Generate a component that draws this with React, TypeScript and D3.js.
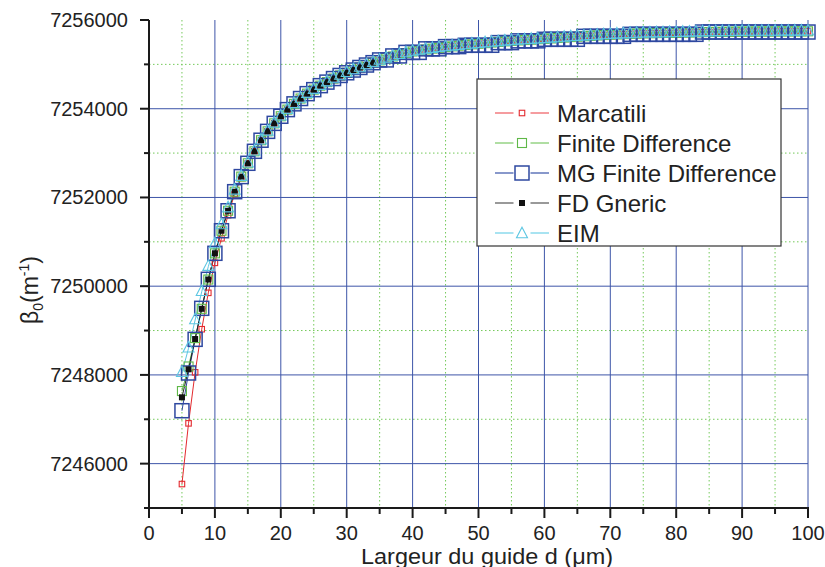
import React from "react";
import * as d3 from "d3";

const widths: number[] = d3.range(5, 101);

const marcatili: number[] = [
  7245540, 7246908, 7248058, 7249030, 7249850, 7250526, 7251080, 7251600, 7252080, 7252440,
  7252770, 7253040, 7253290, 7253490, 7253670, 7253830, 7253980, 7254110, 7254230, 7254340,
  7254430, 7254520, 7254600, 7254680, 7254750, 7254810, 7254872, 7254930, 7254985, 7255038,
  7255090, 7255135, 7255178, 7255218, 7255255, 7255290, 7255313, 7255335, 7255355, 7255373,
  7255390, 7255406, 7255421, 7255436, 7255451, 7255465, 7255479, 7255492, 7255505, 7255518,
  7255530, 7255540, 7255549, 7255558, 7255567, 7255575, 7255585, 7255595, 7255605, 7255615,
  7255625, 7255634, 7255643, 7255652, 7255661, 7255670, 7255676, 7255682, 7255688, 7255694,
  7255700, 7255703, 7255705, 7255708, 7255710, 7255712, 7255716, 7255720, 7255723, 7255727,
  7255730, 7255732, 7255733, 7255735, 7255737, 7255738, 7255739, 7255740, 7255741, 7255741,
  7255742, 7255743, 7255743, 7255744, 7255744, 7255745,
];

const finiteDiff: number[] = [
  7247636, 7248190, 7248830, 7249490, 7250150, 7250740, 7251250, 7251700, 7252130, 7252470,
  7252770, 7253040, 7253290, 7253490, 7253670, 7253830, 7253980, 7254110, 7254230, 7254340,
  7254430, 7254520, 7254600, 7254680, 7254750, 7254810, 7254872, 7254930, 7254985, 7255038,
  7255090, 7255135, 7255178, 7255218, 7255255, 7255290, 7255313, 7255335, 7255355, 7255373,
  7255390, 7255406, 7255421, 7255436, 7255451, 7255465, 7255479, 7255492, 7255505, 7255518,
  7255530, 7255540, 7255549, 7255558, 7255567, 7255575, 7255585, 7255595, 7255605, 7255615,
  7255625, 7255634, 7255643, 7255652, 7255661, 7255670, 7255676, 7255682, 7255688, 7255694,
  7255700, 7255703, 7255705, 7255708, 7255710, 7255712, 7255716, 7255720, 7255723, 7255727,
  7255730, 7255732, 7255733, 7255735, 7255737, 7255738, 7255739, 7255740, 7255741, 7255741,
  7255742, 7255743, 7255743, 7255744, 7255744, 7255745,
];

const mgFiniteDiff: number[] = [
  7247193, 7248043, 7248802, 7249501, 7250155, 7250741, 7251250, 7251700, 7252130, 7252470,
  7252770, 7253040, 7253290, 7253490, 7253670, 7253830, 7253980, 7254110, 7254230, 7254340,
  7254430, 7254520, 7254600, 7254680, 7254750, 7254810, 7254872, 7254930, 7254985, 7255038,
  7255100, 7255100, 7255190, 7255190, 7255270, 7255270, 7255270, 7255350, 7255350, 7255350,
  7255400, 7255400, 7255400, 7255430, 7255430, 7255430, 7255430, 7255430, 7255490, 7255490,
  7255490, 7255530, 7255530, 7255530, 7255530, 7255565, 7255565, 7255565, 7255565, 7255565,
  7255565, 7255632, 7255632, 7255632, 7255632, 7255632, 7255632, 7255632, 7255677, 7255677,
  7255677, 7255677, 7255677, 7255677, 7255677, 7255677, 7255677, 7255677, 7255677, 7255729,
  7255729, 7255729, 7255729, 7255729, 7255729, 7255729, 7255729, 7255729, 7255729, 7255729,
  7255729, 7255729, 7255729, 7255729, 7255729, 7255729,
];

const fdGnericWidths: number[] = d3.range(5, 35);
const fdGneric: number[] = [
  7247495, 7248126, 7248809, 7249490, 7250150, 7250741, 7251250, 7251700, 7252130, 7252470,
  7252770, 7253040, 7253290, 7253490, 7253670, 7253830, 7253980, 7254110, 7254230, 7254340,
  7254430, 7254520, 7254600, 7254680, 7254750, 7254810, 7254872, 7254930, 7254985, 7255038,
];

const eim: number[] = [
  7248049, 7248600, 7249237, 7249875, 7250440, 7250950, 7251380, 7251760, 7252160, 7252470,
  7252770, 7253040, 7253290, 7253490, 7253670, 7253830, 7253980, 7254110, 7254230, 7254340,
  7254430, 7254520, 7254600, 7254680, 7254750, 7254810, 7254872, 7254930, 7254985, 7255038,
  7255090, 7255135, 7255178, 7255218, 7255255, 7255290, 7255313, 7255335, 7255355, 7255373,
  7255390, 7255406, 7255421, 7255436, 7255451, 7255465, 7255479, 7255492, 7255505, 7255518,
  7255530, 7255540, 7255549, 7255558, 7255567, 7255575, 7255585, 7255595, 7255605, 7255615,
  7255625, 7255634, 7255643, 7255652, 7255661, 7255670, 7255676, 7255682, 7255688, 7255694,
  7255700, 7255703, 7255705, 7255708, 7255710, 7255712, 7255716, 7255720, 7255723, 7255727,
  7255730, 7255732, 7255733, 7255735, 7255737, 7255738, 7255739, 7255740, 7255741, 7255741,
  7255742, 7255743, 7255743, 7255744, 7255744, 7255745,
];

const xTickLabels: number[] = [0, 10, 20, 30, 40, 50, 60, 70, 80, 90, 100];
const xMinorTicks: number[] = [5, 15, 25, 35, 45, 55, 65, 75, 85, 95];
const yTickLabels: number[] = [7246000, 7248000, 7250000, 7252000, 7254000, 7256000];
const yMinorTicks: number[] = [7245000, 7247000, 7249000, 7251000, 7253000, 7255000];

type Shape = "square" | "filled" | "triangle";
interface Series {
  name: string;
  xs: number[];
  ys: number[];
  color: string;
  lineColor: string;
  legendLine: string;
  shape: Shape;
  size: number;
}

const seriesList: Series[] = [
  { name: "Marcatili", xs: widths, ys: marcatili, color: "#e32a2e", lineColor: "#e32a2e", legendLine: "#ef5a5e", shape: "square", size: 5.5 },
  { name: "Finite Difference", xs: widths, ys: finiteDiff, color: "#5fb848", lineColor: "#5fb848", legendLine: "#7cc866", shape: "square", size: 9 },
  { name: "MG Finite Difference", xs: widths, ys: mgFiniteDiff, color: "#2e48a0", lineColor: "#2e48a0", legendLine: "#3a54a8", shape: "square", size: 14 },
  { name: "FD Gneric", xs: fdGnericWidths, ys: fdGneric, color: "#111111", lineColor: "#222222", legendLine: "#555555", shape: "filled", size: 6 },
  { name: "EIM", xs: widths, ys: eim, color: "#5cc6e2", lineColor: "#5cc6e2", legendLine: "#6fd0e8", shape: "triangle", size: 11 },
];

const FONT = "'Liberation Sans', Arial, Helvetica, sans-serif";

function Marker({ x, y, s }: { x: number; y: number; s: Series }) {
  const h = s.size / 2;
  if (s.shape === "triangle") {
    const pts = [
      [x, y - s.size * 0.62],
      [x + h, y + s.size * 0.34],
      [x - h, y + s.size * 0.34],
    ]
      .map((p) => p.join(","))
      .join(" ");
    return <polygon points={pts} fill="none" stroke={s.color} strokeWidth={1.1} />;
  }
  if (s.shape === "filled") {
    return <rect x={x - h} y={y - h} width={s.size} height={s.size} fill={s.color} stroke="none" />;
  }
  return (
    <rect x={x - h} y={y - h} width={s.size} height={s.size} fill="none" stroke={s.color} strokeWidth={s.size > 12 ? 1.5 : 1.1} />
  );
}

export default function App() {
  const W = 825;
  const H = 567;
  const x = d3.scaleLinear().domain([0, 100]).range([149, 808]);
  const y = d3.scaleLinear().domain([7245000, 7256000]).range([508, 20]);

  const line = d3
    .line<[number, number]>()
    .x((d) => x(d[0]))
    .y((d) => y(d[1]));

  const left = x(0);
  const right = x(100);
  const bottom = y(7245000);
  const top = y(7256000);

  const legendX = 477;
  const legendY = 79;
  const legendW = 304;
  const legendH = 167;
  const rowY0 = 113;
  const rowStep = 30;

  return (
    <svg
      width={W}
      height={H}
      style={{ position: "absolute", left: 0, top: 0, background: "#fff" }}
      fontFamily={FONT}
    >
      <rect x={0} y={0} width={W} height={H} fill="#fff" />
      {/* minor grid */}
      {xMinorTicks.map((t) => (
        <line key={"gx" + t} x1={x(t)} x2={x(t)} y1={top} y2={bottom} stroke="#74c95a" strokeWidth={1} strokeDasharray="1.5,2.5" />
      ))}
      {yMinorTicks.filter((t) => t !== 7245000).map((t) => (
        <line key={"gy" + t} x1={left} x2={right} y1={y(t)} y2={y(t)} stroke="#74c95a" strokeWidth={1} strokeDasharray="1.5,2.5" />
      ))}
      {/* major grid */}
      {xTickLabels.filter((t) => t !== 0).map((t) => (
        <line key={"GX" + t} x1={x(t)} x2={x(t)} y1={top} y2={bottom} stroke="#3d55a8" strokeWidth={1} />
      ))}
      {yTickLabels.filter((t) => t !== 7256000).map((t) => (
        <line key={"GY" + t} x1={left} x2={right} y1={y(t)} y2={y(t)} stroke="#3d55a8" strokeWidth={1} />
      ))}

      {/* series lines */}
      {seriesList.map((s) => (
        <path
          key={"l" + s.name}
          d={line(s.xs.map((v, i) => [v, s.ys[i]] as [number, number])) || ""}
          fill="none"
          stroke={s.lineColor}
          strokeWidth={1}
        />
      ))}
      {/* markers */}
      {seriesList.map((s) => (
        <g key={"m" + s.name}>
          {s.xs.map((v, i) => (
            <Marker key={i} x={x(v)} y={y(s.ys[i])} s={s} />
          ))}
        </g>
      ))}

      {/* axes */}
      <line x1={left} x2={left} y1={top} y2={bottom + 1} stroke="#1a1a1a" strokeWidth={2} />
      <line x1={left - 1} x2={right + 1} y1={bottom} y2={bottom} stroke="#1a1a1a" strokeWidth={2} />
      {xTickLabels.map((t) => (
        <g key={"xt" + t}>
          <line x1={x(t)} x2={x(t)} y1={bottom} y2={bottom + 10} stroke="#1a1a1a" strokeWidth={2} />
          <text x={x(t)} y={539.5} textAnchor="middle" fontSize={20} fill="#222">
            {t}
          </text>
        </g>
      ))}
      {xMinorTicks.map((t) => (
        <line key={"xm" + t} x1={x(t)} x2={x(t)} y1={bottom} y2={bottom + 6} stroke="#1a1a1a" strokeWidth={2} />
      ))}
      {yTickLabels.map((t) => (
        <g key={"yt" + t}>
          <line x1={left} x2={left - 9} y1={y(t)} y2={y(t)} stroke="#1a1a1a" strokeWidth={2} />
          <text x={128} y={y(t) + 7} textAnchor="end" fontSize={20} fill="#222">
            {t}
          </text>
        </g>
      ))}
      {yMinorTicks.map((t) => (
        <line key={"ym" + t} x1={left} x2={left - 5} y1={y(t)} y2={y(t)} stroke="#1a1a1a" strokeWidth={2} />
      ))}

      {/* axis titles */}
      <text
        x={487}
        y={563.5}
        textAnchor="middle"
        fontSize={22.5}
        fill="#222"
        textLength={252}
        lengthAdjust="spacingAndGlyphs"
      >
        Largeur du guide d (μm)
      </text>
      <text transform="translate(38,290) rotate(-90)" textAnchor="middle" fontSize={23} fill="#222">
        β<tspan fontSize={14} dy={5}>0</tspan>
        <tspan dy={-5}>(m</tspan>
        <tspan fontSize={14} dy={-9}>-1</tspan>
        <tspan dy={9}>)</tspan>
      </text>

      {/* legend */}
      <rect x={legendX} y={legendY} width={legendW} height={legendH} fill="#fff" stroke="#333" strokeWidth={1.2} />
      {seriesList.map((s, i) => {
        const cy = rowY0 + i * rowStep;
        const cx = 522;
        const gap = Math.max(s.size / 2, 8.5);
        return (
          <g key={"lg" + s.name}>
            <line x1={495} x2={cx - gap} y1={cy} y2={cy} stroke={s.legendLine} strokeWidth={1.2} />
            <line x1={cx + gap} x2={549} y1={cy} y2={cy} stroke={s.legendLine} strokeWidth={1.2} />
            <Marker x={cx} y={cy + (s.shape === "triangle" ? 1 : 0)} s={s} />
            <text x={557} y={cy + 8.5} fontSize={24} fill="#222">
              {s.name}
            </text>
          </g>
        );
      })}
    </svg>
  );
}
